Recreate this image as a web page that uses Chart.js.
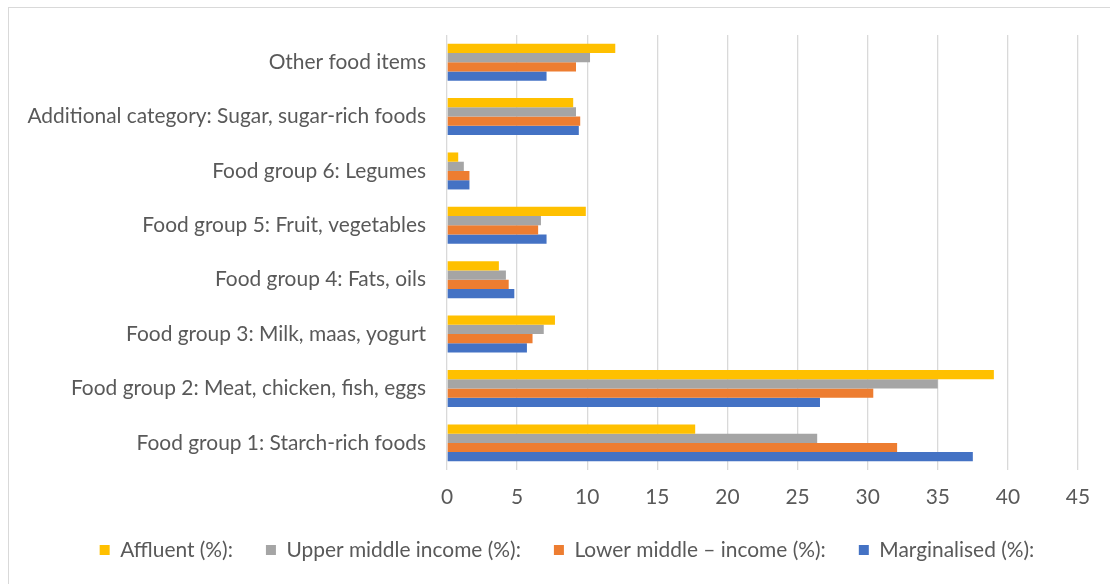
<!DOCTYPE html>
<html>
<head>
<meta charset="utf-8">
<script src="https://cdn.jsdelivr.net/npm/chart.js@4.4.1/dist/chart.umd.min.js"></script>
<style>
  html, body { margin: 0; padding: 0; background: #ffffff; overflow: hidden; width: 1110px; height: 584px; }
  #wrap { position: absolute; left: 0; top: 0; width: 1134px; height: 584px; }
  #frame { position: absolute; left: 8px; top: 7px; width: 1200px; height: 700px; border: 1.5px solid #d9d9d9; box-sizing: border-box; pointer-events: none; }
</style>
</head>
<body>
<div id="wrap"><canvas id="c" width="1134" height="584"></canvas></div>
<div id="frame"></div>
<script>
const categories = [
  "Other food items",
  "Additional category: Sugar, sugar-rich foods",
  "Food group 6: Legumes",
  "Food group 5: Fruit, vegetables",
  "Food group 4: Fats, oils",
  "Food group 3: Milk, maas, yogurt",
  "Food group 2: Meat, chicken, fish, eggs",
  "Food group 1: Starch-rich foods"
];
const seriesNames = ["Affluent (%):", "Upper middle income (%):", "Lower middle \u2013 income (%):", "Marginalised (%):"];
const affluent     = [12.0, 9.0, 0.8, 9.9, 3.7, 7.7, 39.0, 17.7];
const upperMiddle  = [10.2, 9.2, 1.2, 6.7, 4.2, 6.9, 35.0, 26.4];
const lowerMiddle  = [9.2, 9.5, 1.6, 6.5, 4.4, 6.1, 30.4, 32.1];
const marginalised = [7.1, 9.4, 1.6, 7.1, 4.8, 5.7, 26.6, 37.5];
const xTicks = [0, 5, 10, 15, 20, 25, 30, 35, 40, 45];

const colors = ["#FFC000", "#A5A5A5", "#ED7D31", "#4472C4"];
const FAMILY = "Lato, 'Open Sans', sans-serif";

// fit font size so the longest label matches the reference width
const mctx = document.createElement('canvas').getContext('2d');
mctx.font = "100px Lato";
const measured = mctx.measureText(categories[1]).width;
const FS = Math.max(12, Math.min(22, 100 * 399 / measured));

Chart.defaults.font.family = FAMILY;
Chart.defaults.font.size = FS;
Chart.defaults.color = "#595959";

const seriesValues = [affluent, upperMiddle, lowerMiddle, marginalised];

new Chart(document.getElementById('c'), {
  type: 'bar',
  data: {
    labels: categories,
    datasets: seriesNames.map((n, i) => ({
      label: n,
      data: seriesValues[i],
      backgroundColor: colors[i],
      borderWidth: 0,
      barPercentage: 1.0,
      categoryPercentage: 0.68
    }))
  },
  options: {
    indexAxis: 'y',
    responsive: false,
    animation: false,
    devicePixelRatio: 1,
    layout: { padding: { left: 0, right: 0, top: 35, bottom: 13.5 } },
    plugins: {
      legend: {
        position: 'bottom',
        labels: { boxWidth: 10, boxHeight: 10, padding: 33, color: "#595959", font: { size: FS } }
      },
      tooltip: { enabled: false }
    },
    scales: {
      x: {
        min: 0, max: 45,
        afterBuildTicks: (s) => { s.ticks = xTicks.map(v => ({ value: v })); },
        afterFit: (s) => { s.height = 36.5; },
        grid: { color: "#d9d9d9", lineWidth: 1.3, drawTicks: false },
        border: { display: false },
        ticks: { padding: 15, color: "#595959", font: { size: FS } }
      },
      y: {
        afterFit: (s) => { s.width = 447; },
        grid: { display: false, drawTicks: false },
        border: { display: false },
        ticks: { padding: 21, color: "#595959", font: { size: FS } }
      },
      yRight: {
        type: 'linear',
        position: 'right',
        display: true,
        afterFit: (s) => { s.width = 56; },
        grid: { display: false, drawTicks: false },
        border: { display: false },
        ticks: { display: false }
      }
    }
  }
});
</script>
</body>
</html>
